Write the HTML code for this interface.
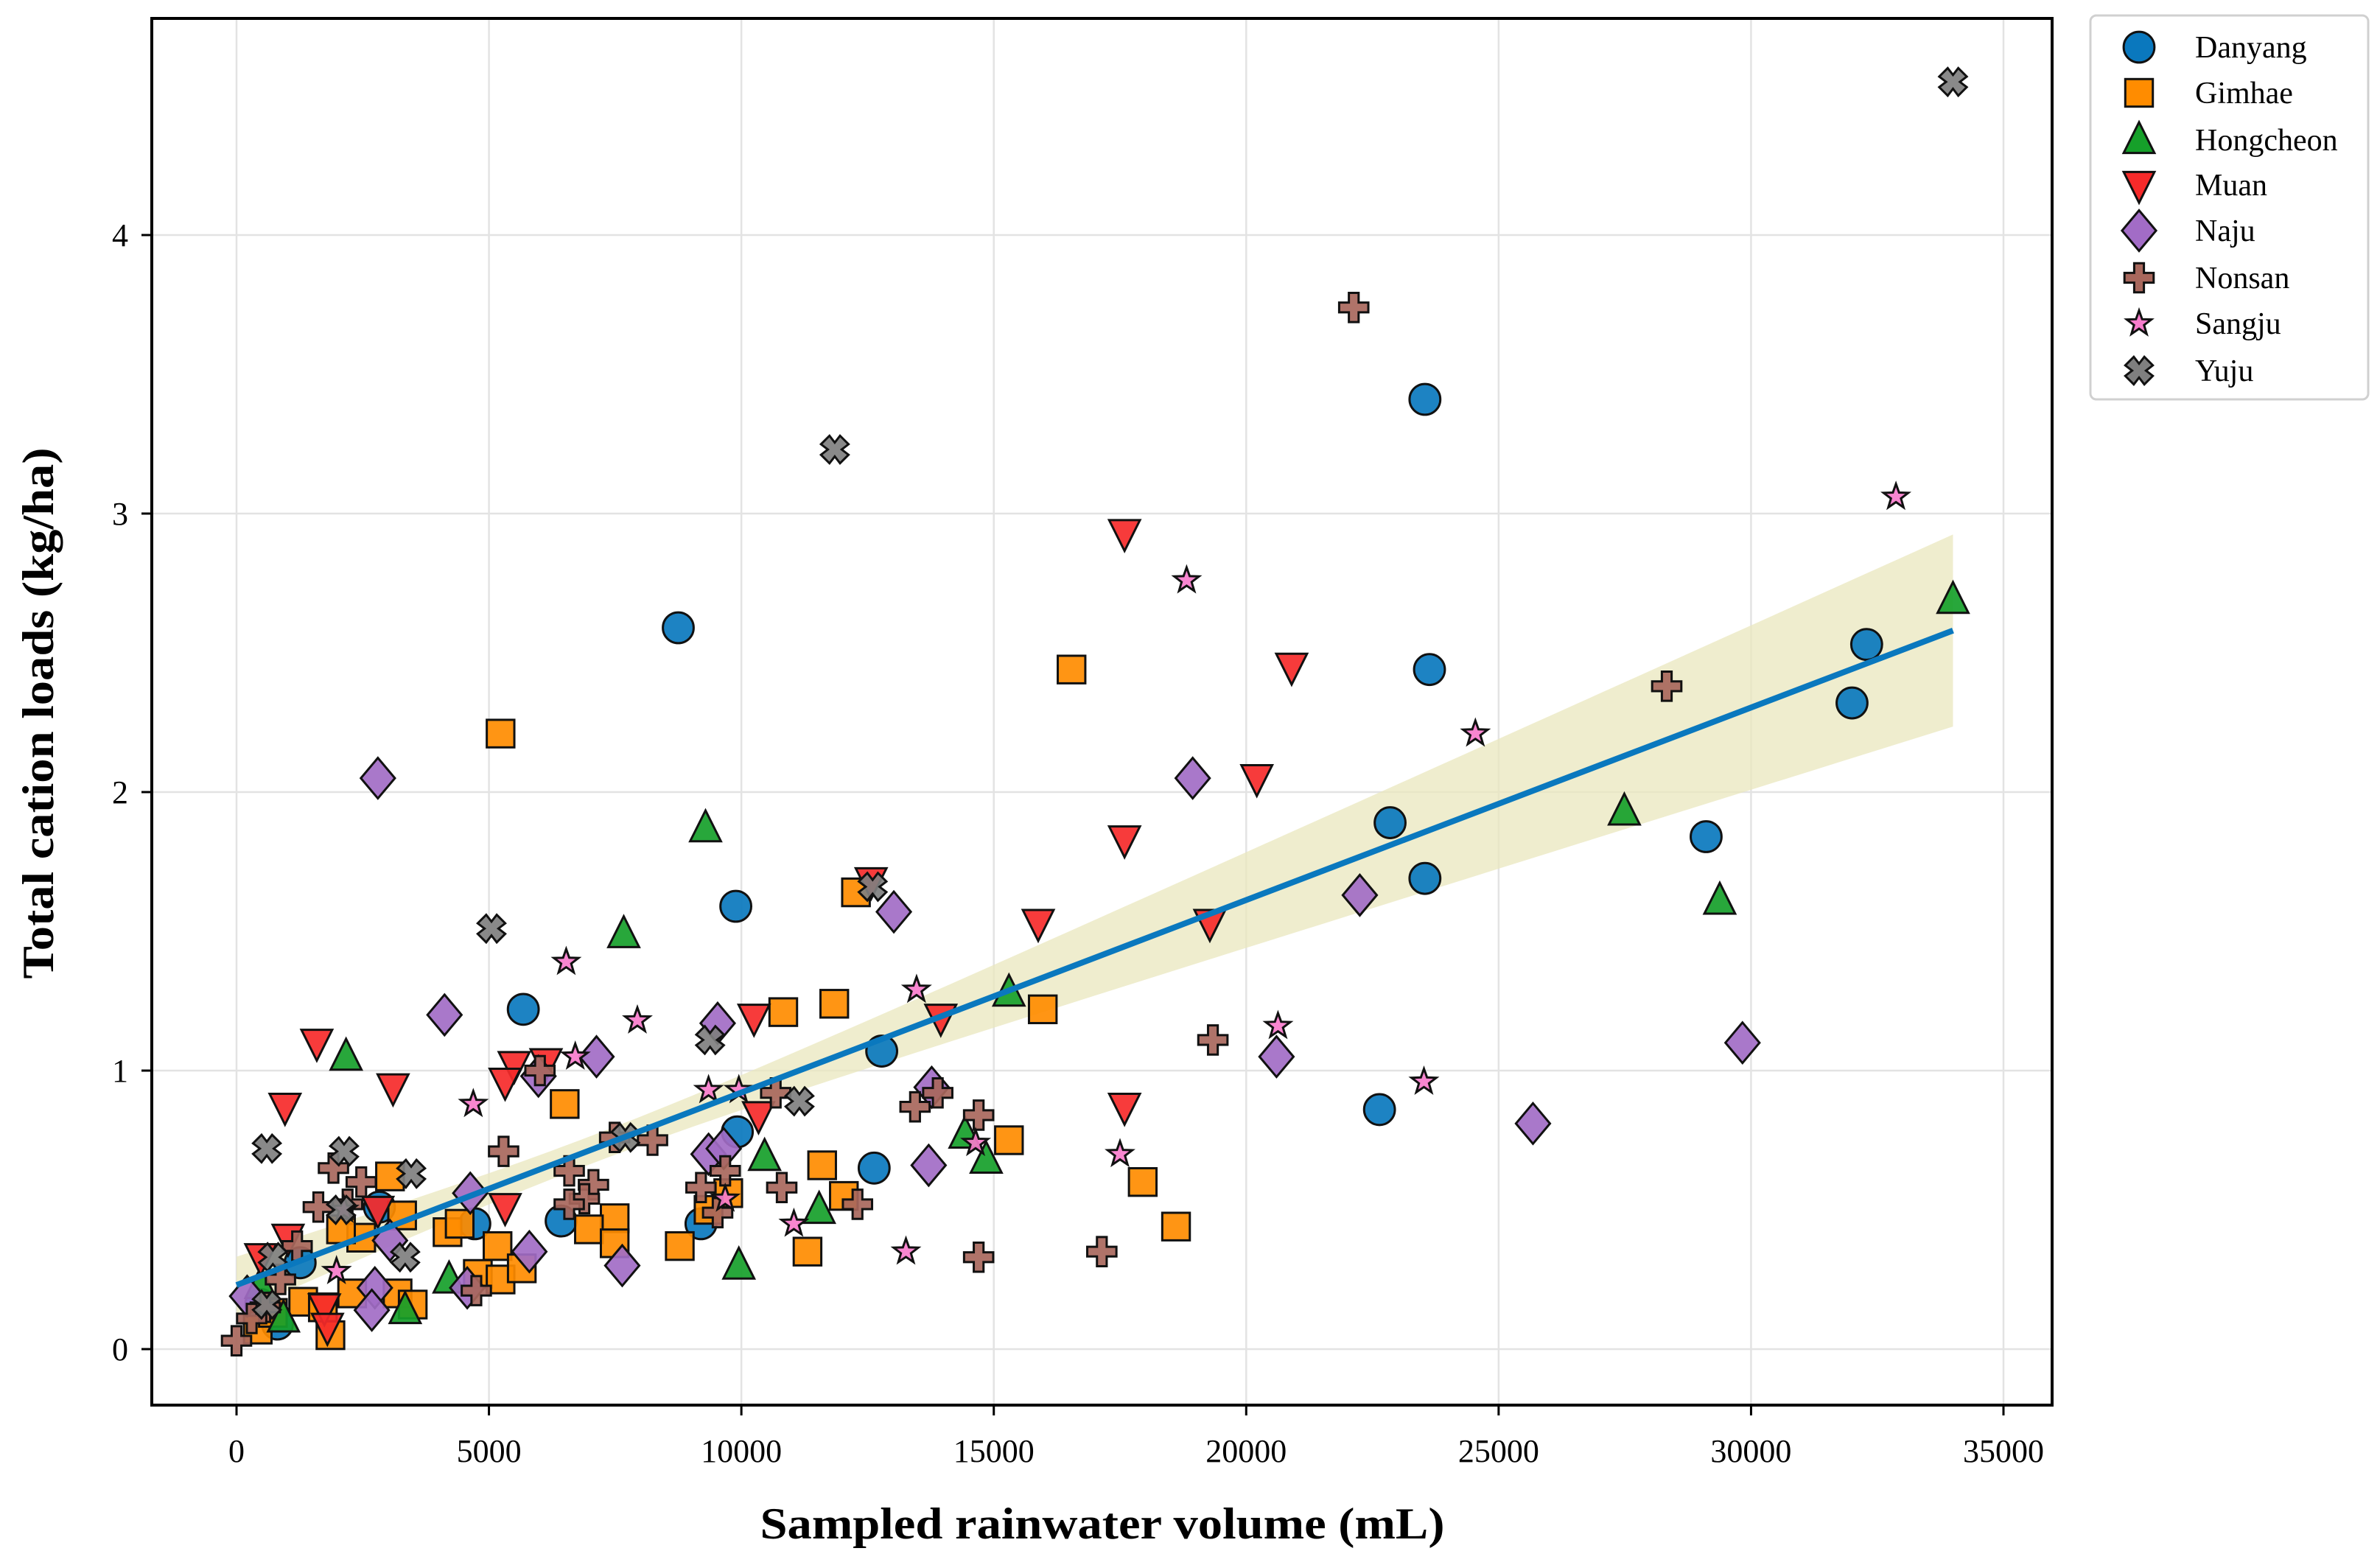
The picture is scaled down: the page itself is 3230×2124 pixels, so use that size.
<!DOCTYPE html>
<html><head><meta charset="utf-8"><style>
html,body{margin:0;padding:0;background:#fff;}
svg{display:block;font-family:"Liberation Serif",serif;}
</style></head><body>
<svg id="chart" width="3230" height="2124" viewBox="0 0 3230 2124" xmlns="http://www.w3.org/2000/svg">
<rect x="0" y="0" width="3230" height="2124" fill="#fff"/>
<g id="grid"></g>
<g id="band"></g>
<g id="pts"></g>
<g id="reg"></g>
<rect x="206" y="25" width="2579" height="1882" fill="none" stroke="#000" stroke-width="4"/>
<g id="axes"></g>
<text x="1496" y="2088" text-anchor="middle" font-size="60" font-weight="bold" textLength="929" lengthAdjust="spacingAndGlyphs">Sampled rainwater volume (mL)</text>
<text transform="translate(72,968) rotate(-90)" text-anchor="middle" font-size="60" font-weight="bold" textLength="721" lengthAdjust="spacingAndGlyphs">Total cation loads (kg/ha)</text>
<g id="legend"></g>
</svg>
<script>
const xTicks=[0,5000,10000,15000,20000,25000,30000,35000];
const yTicks=[0,1,2,3,4];
const series=["Danyang","Gimhae","Hongcheon","Muan","Naju","Nonsan","Sangju","Yuju"];
const colors=["#0a78be","#ff8c00","#16a02a","#f62a2a","#a26cc6","#a8675c","#f77ccc","#7f7f7f"];
const shapes=["circle","square","tri","tridown","diamond","plus","star","x"];
const danyangX=[8750,9890,5680,2830,4720,6430,9200,9920,12780,12630,23540,23630,22850,23540,22640,32290,32000,29110,1260,810,480];
const danyangY=[2.59,1.59,1.22,0.51,0.45,0.46,0.45,0.78,1.07,0.65,3.41,2.44,1.89,1.69,0.86,2.53,2.32,1.84,0.31,0.09,0.16];
const gimhaeX=[5230,16540,12270,11840,10830,15970,6500,3040,11600,15300,17950,18610,12030,11310,8780,7490,6980,7490,5170,4180,4420,4780,5230,5650,3280,3190,3490,2290,1860,420,1320,1710,720,9740,9350,2470,2070];
const gimhaeY=[2.21,2.44,1.64,1.24,1.21,1.22,0.88,0.62,0.66,0.75,0.60,0.44,0.55,0.35,0.37,0.47,0.43,0.38,0.37,0.42,0.45,0.27,0.25,0.29,0.48,0.20,0.16,0.20,0.05,0.07,0.17,0.15,0.13,0.56,0.50,0.40,0.43];
const hongX=[9290,7670,2170,15300,27490,29380,34000,10460,11540,14430,14850,9950,4210,3340,930,480];
const hongY=[1.87,1.49,1.05,1.28,1.93,1.61,2.69,0.69,0.50,0.77,0.68,0.30,0.25,0.14,0.11,0.23];
const muanX=[17590,20900,20210,17590,12570,15880,19280,13950,10250,5500,5320,6130,1590,3100,960,17590,10340,5320,1020,480,1740,1800,2800];
const muanY=[2.93,2.45,2.05,1.83,1.68,1.53,1.53,1.19,1.19,1.02,0.96,1.03,1.10,0.94,0.87,0.87,0.84,0.51,0.40,0.33,0.15,0.08,0.50];
const najuX=[2800,18940,13020,22250,4120,9530,7130,5980,20600,29830,25680,13710,13770,9350,9650,5800,7640,4570,2740,2680,4630,210,3040];
const najuY=[2.05,2.05,1.57,1.63,1.20,1.17,1.05,0.98,1.05,1.10,0.81,0.66,0.94,0.70,0.72,0.35,0.30,0.22,0.22,0.14,0.56,0.19,0.39];
const nonsanX=[22130,28330,19340,10680,13890,13440,14700,5290,6590,7070,6890,6590,6010,8240,9200,9680,9530,10800,12300,14700,17140,4750,1920,1620,2200,1200,870,570,0,300,7490,2470];
const nonsanY=[3.74,2.38,1.11,0.92,0.92,0.87,0.84,0.71,0.64,0.59,0.54,0.52,1.00,0.75,0.58,0.64,0.49,0.58,0.52,0.33,0.35,0.21,0.65,0.51,0.52,0.37,0.25,0.15,0.03,0.11,0.76,0.60];
const sangjuX=[32870,18820,24540,6530,13470,7940,6710,20630,4690,9350,9950,23520,17500,14640,9680,11040,13260,1980,2130];
const sangjuY=[3.06,2.76,2.21,1.39,1.29,1.18,1.05,1.16,0.88,0.93,0.93,0.96,0.70,0.74,0.54,0.45,0.35,0.28,0.50];
const yujuX=[34000,11850,5050,12600,9380,11150,600,2130,3460,7700,3340,2070,600,720];
const yujuY=[4.55,3.23,1.51,1.66,1.11,0.89,0.72,0.71,0.63,0.76,0.33,0.50,0.16,0.33];
const regX=[0,34000];
const regY=[0.23,2.58];
const bandHalfAtMean=0.05, bandHalfAtMax=0.345, bandMeanX=7000;

const allX=[danyangX,gimhaeX,hongX,muanX,najuX,nonsanX,sangjuX,yujuX];
const allY=[danyangY,gimhaeY,hongY,muanY,najuY,nonsanY,sangjuY,yujuY];
const X0=321,X1=2719,Y0=1831,Y4=319;
const sx=v=>X0+(X1-X0)*v/35000;
const sy=v=>Y0+(Y4-Y0)*v/4;
const NS="http://www.w3.org/2000/svg";
function mk(t,a,p){const e=document.createElementNS(NS,t);for(const k in a)e.setAttribute(k,a[k]);p.appendChild(e);return e;}
const grid=document.getElementById('grid'),axes=document.getElementById('axes');
xTicks.forEach(t=>{
  const g=mk('line',{x1:sx(t),x2:sx(t),y1:25,y2:1907,stroke:'#e3e3e3','stroke-width':2.5},grid);
  
  
  const tk=mk('line',{x1:sx(t),x2:sx(t),y1:1907,y2:1921,stroke:'#000','stroke-width':3},axes);
  
  
  const lb=mk('text',{x:sx(t),y:1984,'text-anchor':'middle','font-size':44},axes);
  lb.textContent=t;
  
  
});
yTicks.forEach(t=>{
  const g=mk('line',{x1:206,x2:2785,y1:sy(t),y2:sy(t),stroke:'#e3e3e3','stroke-width':2.5},grid);
  
  
  const tk=mk('line',{x1:192,x2:206,y1:sy(t),y2:sy(t),stroke:'#000','stroke-width':3},axes);
  
  
  const lb=mk('text',{x:174,y:sy(t)+15,'text-anchor':'end','font-size':44},axes);
  lb.textContent=t;
  
  
});
const k=Math.sqrt(bandHalfAtMax**2-bandHalfAtMean**2)/(regX[1]-bandMeanX);
const lin=x=>regY[0]+(regY[1]-regY[0])*(x-regX[0])/(regX[1]-regX[0]);
const hw=x=>Math.sqrt(bandHalfAtMean**2+(k*(x-bandMeanX))**2);
let up=[],dn=[];
for(let i=0;i<=60;i++){const x=regX[0]+(regX[1]-regX[0])*i/60;up.push(sx(x)+','+sy(lin(x)+hw(x)));dn.unshift(sx(x)+','+sy(lin(x)-hw(x)));}
const bp=mk('polygon',{points:up.concat(dn).join(' '),fill:'#e9e7bd','fill-opacity':0.75},document.getElementById('band'));


const rl=mk('line',{x1:sx(regX[0]),y1:sy(regY[0]),x2:sx(regX[1]),y2:sy(regY[1]),stroke:'#0a78be','stroke-width':8},document.getElementById('reg'));


const S=1.1;
function marker(shape,cx,cy,fill,parent,op){
  const st={fill:fill,stroke:'#111','stroke-width':3,'fill-opacity':op,'stroke-linejoin':'miter'};
  let e;
  if(shape==='circle'){e=mk('circle',Object.assign({cx:cx,cy:cy,r:19*S},st),parent);}
  else if(shape==='square'){e=mk('rect',Object.assign({x:cx-17*S,y:cy-17*S,width:34*S,height:34*S},st),parent);}
  else if(shape==='tri'){e=mk('polygon',Object.assign({points:`${cx},${cy-22*S} ${cx+19*S},${cy+16*S} ${cx-19*S},${cy+16*S}`},st),parent);}
  else if(shape==='tridown'){e=mk('polygon',Object.assign({points:`${cx},${cy+22*S} ${cx+19*S},${cy-16*S} ${cx-19*S},${cy-16*S}`},st),parent);}
  else if(shape==='diamond'){e=mk('polygon',Object.assign({points:`${cx},${cy-25*S} ${cx+21*S},${cy} ${cx},${cy+25*S} ${cx-21*S},${cy}`},st),parent);}
  else if(shape==='plus'){const a=18*S,b=6*S;e=mk('polygon',Object.assign({points:`${cx-b},${cy-a} ${cx+b},${cy-a} ${cx+b},${cy-b} ${cx+a},${cy-b} ${cx+a},${cy+b} ${cx+b},${cy+b} ${cx+b},${cy+a} ${cx-b},${cy+a} ${cx-b},${cy+b} ${cx-a},${cy+b} ${cx-a},${cy-b} ${cx-b},${cy-b}`},st),parent);}
  else if(shape==='star'){let p=[];for(let i=0;i<10;i++){const r=(i%2?6.5:16)*S,an=-Math.PI/2+i*Math.PI/5;p.push((cx+r*Math.cos(an)).toFixed(1)+','+(cy+r*Math.sin(an)).toFixed(1));}e=mk('polygon',Object.assign({points:p.join(' ')},st),parent);}
  else {const a=17*S,b=6.5*S;let p=[];const base=[[-b,-a],[0,-a+b*1.3],[b,-a],[a,-b],[a-b*1.3,0],[a,b],[b,a],[0,a-b*1.3],[-b,a],[-a,b],[-a+b*1.3,0],[-a,-b]];
    base.forEach(q=>p.push((cx+q[0])+','+(cy+q[1])));e=mk('polygon',Object.assign({points:p.join(' ')},st),parent);}
  return e;
}
const pts=document.getElementById('pts');
allX.forEach((xs,s)=>{
  xs.forEach((x,i)=>{
    const m=marker(shapes[s],sx(x),sy(allY[s][i]),colors[s],pts,0.92);
    
    
  });
});
const lg=document.getElementById('legend');
const lb=mk('rect',{x:2837,y:21,width:377,height:521,rx:8,fill:'#fff',stroke:'#d0d0d0','stroke-width':3},lg);


const ly=[64,126,190,251,313,377,439,503];
series.forEach((s,i)=>{
  const m=marker(shapes[i],2903,ly[i],colors[i],lg,1);
  
  
  const t=mk('text',{x:2979,y:ly[i]+14,'font-size':42},lg);
  t.textContent=s;
  
  
});
</script>
</body></html>
